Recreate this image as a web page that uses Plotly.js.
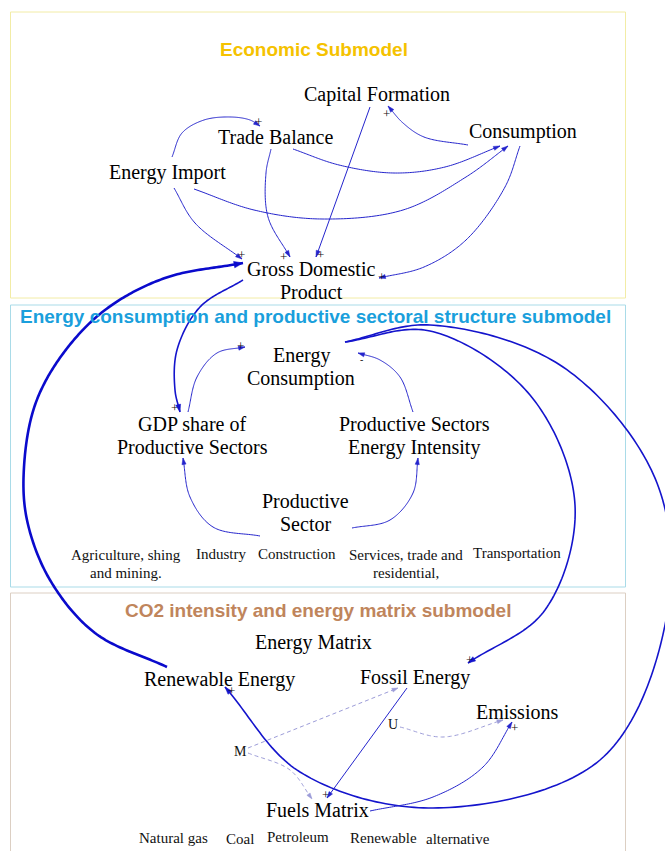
<!DOCTYPE html>
<html><head><meta charset="utf-8">
<script src="https://cdn.plot.ly/plotly-3.0.1.min.js"></script>
<style>html,body{margin:0;padding:0;background:#fff;}#chart{width:665px;height:851px;}</style>
</head><body><div id="chart"></div>
<script>
// ---------- Submodel panels ----------
const panelTitles = ['Economic Submodel', 'Energy consumption and productive sectoral structure submodel', 'CO2 intensity and energy matrix submodel'];
const panelTitleX = [314, 315, 318];
const panelTitleY = [49, 316, 610];
const panelTop = [12, 305, 593];
const panelBottom = [298, 587, 870];
const panelLeft = [10.5, 10.5, 10.5];
const panelRight = [625.5, 625.5, 625.5];

// ---------- Variables (main nodes) ----------
const nodeLabels = ['Capital Formation', 'Trade Balance', 'Consumption', 'Energy Import',
  'Gross Domestic\nProduct', 'Energy\nConsumption', 'GDP share of\nProductive Sectors',
  'Productive Sectors\nEnergy Intensity', 'Productive\nSector', 'Energy Matrix',
  'Renewable Energy', 'Fossil Energy', 'Emissions', 'Fuels Matrix'];
const nodeX = [377, 275, 523, 167, 311, 301, 192, 414, 305, 313, 219, 415, 517, 317];
const nodeY = [94, 137, 131, 172, 269, 355, 424, 424, 501, 642, 679, 677, 712, 810];

// ---------- Sub-category labels ----------
const subLabels = ['Agriculture, shing\nand mining.', 'Industry', 'Construction', 'Services, trade and\nresidential,', 'Transportation',
  'Natural gas', 'Coal', 'Petroleum', 'Renewable', 'alternative', 'U', 'M'];
const subX = [126, 221, 297, 406, 517, 173, 240, 298, 383, 458, 393, 240];
const subY = [555, 554, 554, 555, 553, 838, 839, 837, 838, 839, 724, 751];

// ---------- Causal links (points each arrow passes through) ----------
const linkPoints = [
  [[172,157],[182,133],[204,120],[231,117],[250,120],[260,126]],             // Energy Import -> Trade Balance
  [[293,149],[339,165],[394,173],[445,167],[500,146]],                        // Trade Balance -> Consumption
  [[194,189],[254,210],[322,219],[403,210],[466,177],[508,146]],              // Energy Import -> Consumption
  [[468,145],[424,137],[403,123],[388,106]],                                  // Consumption -> Capital Formation
  [[370,107],[316,257]],                                                      // Capital Formation -> GDP
  [[271,149],[266,173],[268,217],[290,257]],                                  // Trade Balance -> GDP
  [[174,188],[195,223],[242,259]],                                            // Energy Import -> GDP
  [[520,146],[505,187],[466,240],[424,267],[379,278]],                        // Consumption -> GDP
  [[167,667],[95,633],[50,580],[27,520],[24,467],[35,405],[62,355],[105,310],[165,278],[243,263]], // Renewable Energy -> GDP
  [[243,280],[200,307],[177,350],[175,390],[180,412]],                        // GDP -> GDP share
  [[188,412],[197,377],[217,353],[245,347]],                                  // GDP share -> Energy Consumption
  [[413,412],[400,377],[380,360],[358,353]],                                  // Intensity -> Energy Consumption
  [[260,536],[213,527],[190,497],[183,458]],                                  // Productive Sector -> GDP share
  [[352,528],[390,520],[413,493],[418,458]],                                  // Productive Sector -> Intensity
  [[345,342],[430,331],[530,395],[575,505],[545,610],[468,663]],              // Energy Consumption -> Fossil Energy
  [[345,342],[430,325],[563,367],[657,483],[666,620],[600,760],[433,808],[300,772],[225,687]], // Energy Consumption -> Renewable Energy
  [[407,688],[327,798]],                                                      // Fossil Energy -> Fuels Matrix
  [[370,811],[433,797],[483,767],[512,722]],                                  // Fuels Matrix -> Emissions
  [[400,727],[443,737],[503,720]],                                            // U -> Emissions
  [[248,748],[398,688]],                                                      // M -> Fossil Energy
  [[248,753],[290,770],[312,799]]                                             // M -> Fuels Matrix
];
const linkKind = ['thin','thin','thin','thin','thin','thin','thin','thin','thick','medium','thin','thin','thin','thin','medium','medium','thin','thin','dashed','dashed','dashed'];
const linkSign = ['+','','','+','+','+','+','+','','+','+','-','','','+','+','+','+','','',''];
const signX = [258,0,0,386,320,283,241,381,0,174,240,361,0,0,469,231,325,514,0,0,0];
const signY = [121,0,0,113,254,256,254,276,0,407,345,359,0,0,659,690,794,727,0,0,0];

// ---------- styles ----------
const kindStyle = {
  thin:   {color:'#2424cc', width:1,   head:6.5, half:2.1, dash:'solid'},
  medium: {color:'#1414cc', width:1.6, head:7.5, half:2.5, dash:'solid'},
  thick:  {color:'#0a0acc', width:2.6, head:9,   half:3.3, dash:'solid'},
  dashed: {color:'#9c9cd8', width:1,   head:6,   half:2.0, dash:'4px,3px'}
};
const panelBorder = ['#f2eca6', '#a9dbe8', '#dccfc3'];
const panelTitleColor = ['#f5c200', '#1a9fdc', '#c0855c'];

// centripetal Catmull-Rom spline through the given points
function spline(pts, n) {
  if (pts.length < 3) return pts.slice();
  const out = [];
  const lerp = (a, b, ta, tb, t) => [(tb-t)/(tb-ta)*a[0] + (t-ta)/(tb-ta)*b[0], (tb-t)/(tb-ta)*a[1] + (t-ta)/(tb-ta)*b[1]];
  const d = (a, b) => Math.pow(Math.hypot(b[0]-a[0], b[1]-a[1]), 0.5) || 1e-6;
  for (let i = 0; i < pts.length - 1; i++) {
    const P1 = pts[i], P2 = pts[i+1];
    const P0 = pts[i-1] || [2*P1[0]-P2[0], 2*P1[1]-P2[1]];
    const P3 = pts[i+2] || [2*P2[0]-P1[0], 2*P2[1]-P1[1]];
    const t0 = 0, t1 = t0 + d(P0,P1), t2 = t1 + d(P1,P2), t3 = t2 + d(P2,P3);
    for (let k = (i === 0 ? 0 : 1); k <= n; k++) {
      const t = t1 + (t2 - t1) * k / n;
      const A1 = lerp(P0, P1, t0, t1, t), A2 = lerp(P1, P2, t1, t2, t), A3 = lerp(P2, P3, t2, t3, t);
      const B1 = lerp(A1, A2, t0, t2, t), B2 = lerp(A2, A3, t1, t3, t);
      out.push(lerp(B1, B2, t1, t2, t));
    }
  }
  return out;
}

const traces = [];
linkPoints.forEach((pts, i) => {
  const st = kindStyle[linkKind[i]];
  const s = spline(pts, 30);
  traces.push({x: s.map(p=>p[0]), y: s.map(p=>p[1]), mode:'lines', hoverinfo:'skip',
    line:{color:st.color, width:st.width, dash:st.dash, simplify:false}});
  const e = s[s.length-1];
  let j = s.length-2;
  while (j > 0 && Math.hypot(e[0]-s[j][0], e[1]-s[j][1]) < 3) j--;
  const b = s[j];
  const dx = e[0]-b[0], dy = e[1]-b[1], L = Math.hypot(dx,dy);
  const ux = dx/L, uy = dy/L, px = -uy, py = ux;
  const bx = e[0]-ux*st.head, by = e[1]-uy*st.head;
  traces.push({x:[e[0], bx+px*st.half, bx-px*st.half, e[0]], y:[e[1], by+py*st.half, by-py*st.half, e[1]],
    mode:'lines', fill:'toself', fillcolor:st.color, line:{color:st.color, width:0.5}, hoverinfo:'skip'});
});

const annotations = [];
const serif = 'Liberation Serif, Times New Roman, serif';
nodeLabels.forEach((t, i) => {
  t.split('\n').forEach((line, k) => {
    annotations.push({x:nodeX[i], y:nodeY[i] + k*23, xref:'x', yref:'y', text:line, showarrow:false,
      xanchor:'center', yanchor:'middle', font:{family:serif, size:20, color:'#000'}});
  });
});
subLabels.forEach((t, i) => {
  const small = (t === 'U' || t === 'M');
  t.split('\n').forEach((line, k) => {
    annotations.push({x:subX[i], y:subY[i] + k*17.5, xref:'x', yref:'y', text:line, showarrow:false,
      xanchor:'center', yanchor:'middle', font:{family:serif, size: small ? 14 : 15, color:'#111'}});
  });
});
linkSign.forEach((sg, i) => {
  if (!sg) return;
  annotations.push({x:signX[i], y:signY[i], xref:'x', yref:'y', text:sg, showarrow:false,
    xanchor:'center', yanchor:'middle', font:{family:serif, size:sg === '-' ? 10 : 13, color:'#111'}});
});
panelTitles.forEach((t, i) => {
  annotations.push({x:panelTitleX[i], y:panelTitleY[i], xref:'x', yref:'y', text:'<b>'+t+'</b>', showarrow:false,
    xanchor:'center', yanchor:'middle', font:{family:'Liberation Sans, Arial, sans-serif', size:19, color:panelTitleColor[i]}});
});

const shapes = panelTop.map((top, i) => ({type:'rect', xref:'x', yref:'y', x0:panelLeft[i], x1:panelRight[i],
  y0:top, y1:panelBottom[i], line:{color:panelBorder[i], width:1}, fillcolor:'rgba(0,0,0,0)', layer:'below'}));

const layout = {
  width:665, height:851, margin:{l:0, r:0, t:0, b:0},
  paper_bgcolor:'#fff', plot_bgcolor:'#fff', showlegend:false, hovermode:false,
  xaxis:{range:[0,665], visible:false, fixedrange:true},
  yaxis:{range:[851,0], visible:false, fixedrange:true},
  shapes, annotations
};
Plotly.newPlot('chart', traces, layout, {staticPlot:true, displayModeBar:false});
</script>
</body></html>
